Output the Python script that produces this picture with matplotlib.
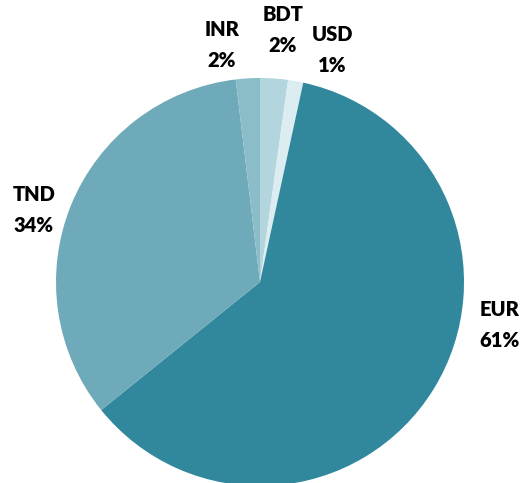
import matplotlib
matplotlib.use("Agg")
import matplotlib.pyplot as plt

# currency share, clockwise from 12 o'clock
currencies = ["BDT", "USD", "EUR", "TND", "INR"]
shares = [2.2, 1.2, 60.8, 33.9, 1.9]
shown_pct = [2, 1, 61, 34, 2]
colors = ["#b3d6de", "#dcedf1", "#31889c", "#6eaab9", "#8bbdc9"]

W, H = 527, 483
fig = plt.figure(figsize=(W / 100, H / 100), dpi=100)

cx, cy, r = 260, 282, 204
ax = fig.add_axes([(cx - r) / W, (H - cy - r) / H, 2 * r / W, 2 * r / H])
ax.pie(shares, colors=colors, startangle=90, counterclock=False,
       wedgeprops=dict(linewidth=0))
ax.set_xlim(-1, 1)
ax.set_ylim(-1, 1)
ax.set_clip_on(False)

# label centres in pie units
label_pos = {
    "BDT": (0.113, 1.235),
    "USD": (0.353, 1.137),
    "EUR": (1.176, -0.211),
    "TND": (-1.108, 0.353),
    "INR": (-0.186, 1.162),
}
for name, pct in zip(currencies, shown_pct):
    x, y = label_pos[name]
    ax.text(x, y, f"{name}\n{pct}%", ha="center", va="center",
            fontsize=14.5, fontweight="heavy", family=["Lato", "DejaVu Sans"],
            linespacing=1.7, clip_on=False)

fig.savefig("out.png", dpi=100)
